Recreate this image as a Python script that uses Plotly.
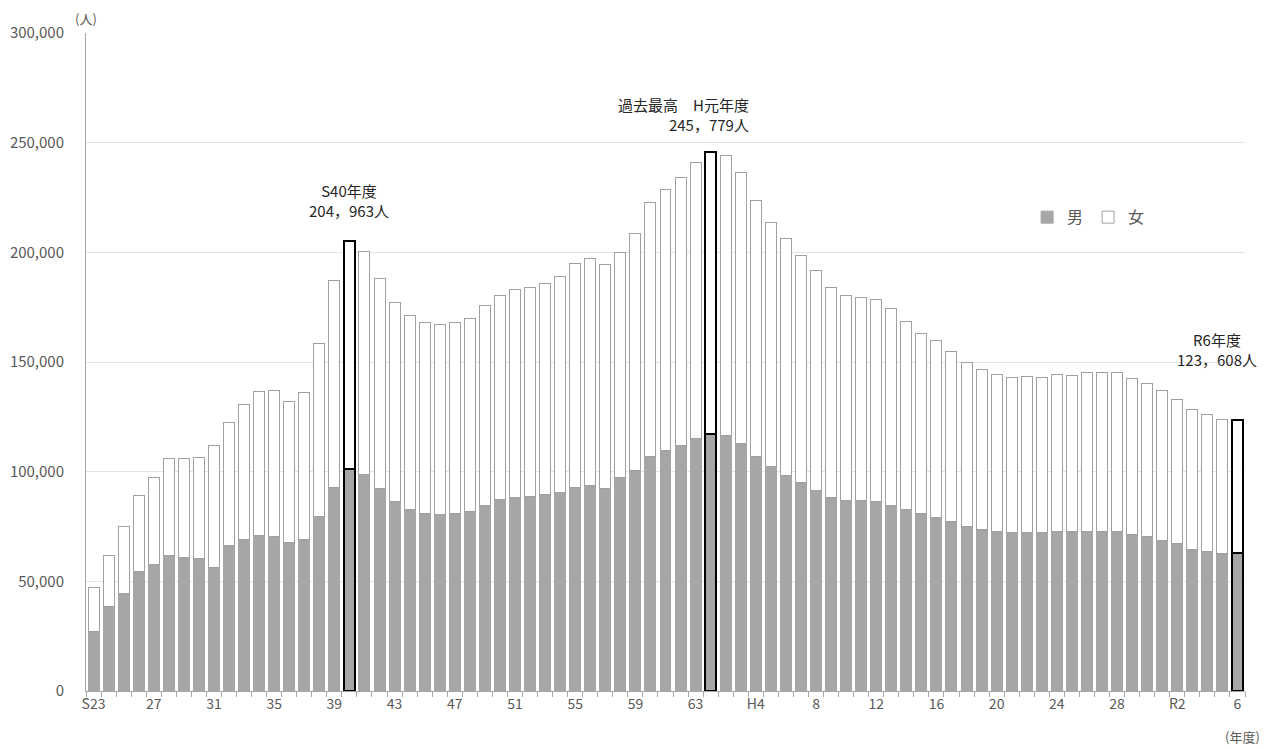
import plotly.graph_objects as go

# 年度 (S23〜R6)
years = [f"S{y}" for y in range(23, 64)] + [f"H{y}" for y in range(1, 31)] + [f"R{y}" for y in range(1, 7)]

male = [
    27200, 38400, 44400, 54500, 57800, 61800, 60900, 60400, 56300, 66400,
    69000, 71000, 70400, 67700, 69200, 79600, 92900, 101300, 98700, 92400,
    86600, 82900, 81100, 80300, 81100, 82000, 84800, 87100, 88400, 88900,
    89400, 90700, 92900, 93500, 92200, 97200, 100500, 107000, 109600, 111900,
    114900, 117200, 116400, 112700, 107000, 102300, 98200, 95000, 91600, 88400,
    86800, 86800, 86600, 84800, 82800, 80800, 79300, 77200, 75000, 73700,
    72500, 72200, 72200, 72200, 72500, 72500, 72500, 72800, 72500, 71500,
    70500, 68500, 67100, 64700, 63600, 62900, 62900,
]
female = [
    19800, 23200, 30600, 34700, 39700, 44000, 44900, 46200, 55500, 56000,
    61600, 65600, 66700, 64400, 67100, 79000, 94200, 103663, 101600, 95700,
    90400, 88100, 87100, 86800, 87100, 87700, 90900, 93200, 94700, 95000,
    96400, 98200, 102100, 103900, 102300, 102500, 108300, 115500, 118900, 122400,
    126000, 128579, 127600, 123700, 116800, 111400, 107900, 103700, 100300, 95500,
    93500, 92700, 92000, 89500, 85600, 82400, 80500, 77400, 75000, 72700,
    72000, 70800, 71200, 70800, 71900, 71500, 72900, 72600, 72900, 71000,
    69900, 68300, 65800, 63600, 62400, 60800, 60708,
]

tick_labels = {
    "S23": "S23", "S27": "27", "S31": "31", "S35": "35", "S39": "39", "S43": "43",
    "S47": "47", "S51": "51", "S55": "55", "S59": "59", "S63": "63", "H4": "H4",
    "H8": "8", "H12": "12", "H16": "16", "H20": "20", "H24": "24", "H28": "28",
    "R2": "R2", "R6": "6",
}
highlight = ["S40", "H1", "R6"]

GRAY = "#595959"
FONT = "Noto Sans CJK JP"

male_line = ["#000000" if y in highlight else "#a6a6a6" for y in years]
female_line = ["#000000" if y in highlight else "#a0a0a0" for y in years]
line_w = [2 if y in highlight else 1 for y in years]

fig = go.Figure()
fig.add_trace(go.Bar(
    x=years, y=male, name="男",
    marker=dict(color="#a6a6a6", line=dict(color=male_line, width=line_w)),
))
fig.add_trace(go.Bar(
    x=years, y=female, name="女",
    marker=dict(color="#ffffff", line=dict(color=female_line, width=line_w)),
))

fig.update_layout(
    width=1277, height=749,
    barmode="stack", bargap=0.27,
    plot_bgcolor="white", paper_bgcolor="white",
    margin=dict(l=78, r=40, t=25, b=66, autoexpand=False),
    font=dict(family=FONT, color=GRAY, size=14),
    legend=dict(
        orientation="h", x=0.812, y=0.72, xanchor="left", yanchor="middle",
        font=dict(size=16, color=GRAY), traceorder="normal",
        entrywidth=16, entrywidthmode="pixels", itemwidth=30,
        bgcolor="rgba(0,0,0,0)",
    ),
)
fig.update_xaxes(
    type="category", automargin=False,
    categoryorder="array", categoryarray=years,
    range=[-0.5, len(years) - 0.5],
    tickmode="array", tickvals=years, tickangle=0,
    ticktext=[tick_labels.get(y, "") for y in years],
    tickson="boundaries", ticks="outside", ticklen=5, tickcolor="#a6a6a6",
    showline=True, linecolor="#a6a6a6", linewidth=1,
    tickfont=dict(size=14, color=GRAY),
)
fig.update_yaxes(
    range=[0, 300000], dtick=50000, tickformat=",", automargin=False,
    showgrid=True, gridcolor="#e4e4e4", gridwidth=1,
    showline=True, linecolor="#a6a6a6", linewidth=1,
    ticks="", ticklabelstandoff=18,
    tickfont=dict(size=15, color=GRAY),
    zeroline=False,
)

ann_font = dict(family=FONT, size=15, color="#262626")
fig.add_annotation(x="S40", y=204963, text="S40年度<br>204，963人", showarrow=False,
                   yanchor="bottom", yshift=18, font=ann_font, align="center")
fig.add_annotation(x="H1", y=245779, text="過去最高　H元年度<br>245，779人", showarrow=False,
                   xanchor="right", xshift=40, yanchor="bottom", yshift=15,
                   font=ann_font, align="right")
fig.add_annotation(x="R6", y=123608, text="R6年度<br>123，608人", showarrow=False,
                   xshift=-20, yanchor="bottom", yshift=48, font=ann_font, align="center")

fig.add_annotation(xref="paper", yref="paper", x=0, y=1, text="(人)", showarrow=False,
                   xanchor="center", yanchor="bottom", yshift=3, font=dict(size=13, color=GRAY))
fig.add_annotation(xref="paper", yref="paper", x=1, y=0, text="(年度)", showarrow=False,
                   xanchor="center", yanchor="top", yshift=-34, xshift=-3,
                   font=dict(size=13, color=GRAY))

fig.write_html("out.html")
